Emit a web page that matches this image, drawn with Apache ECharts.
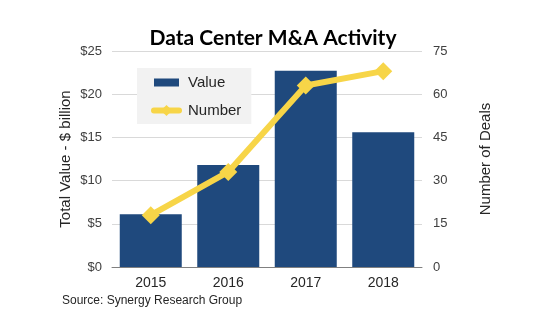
<!DOCTYPE html>
<html><head><meta charset="utf-8">
<script src="https://cdn.jsdelivr.net/npm/echarts@6/dist/echarts.min.js"></script>
<style>html,body{margin:0;padding:0;background:#fff}#c{width:545px;height:326px}</style>
</head><body><div id="c"></div>
<script>
const years = ['2015', '2016', '2017', '2018'];
const valueBillion = [6.1, 11.8, 22.7, 15.6];
const numberDeals = [18, 33, 63, 68];
const leftTicks = [0, 5, 10, 15, 20, 25];
const rightTicks = [0, 15, 30, 45, 60, 75];

const chart = echarts.init(document.getElementById('c'), null, {renderer: 'canvas'});
const axisFont = {fontFamily: 'Liberation Sans, Arial, sans-serif', fontSize: 13, color: '#404040'};
chart.setOption({
  animation: false,
  backgroundColor: '#ffffff',
  title: {
    text: 'Data Center M&A Activity',
    left: 268, top: 23, textAlign: 'center',
    textStyle: {fontFamily: 'Lato, Open Sans, sans-serif', fontWeight: 'bold', fontSize: 21, color: '#000'}
  },
  legend: {
    orient: 'vertical', left: 137, top: 68,
    backgroundColor: '#F2F2F2',
    padding: [7, 10, 6, 14],
    itemWidth: 25, itemHeight: 14, itemGap: 13,
    textStyle: {fontFamily: 'Liberation Sans, Arial, sans-serif', fontSize: 15, color: '#262626', padding: [0, 0, 0, 4]},
    data: [
      {name: 'Value', icon: 'path://M0,0H25V8H0Z'},
      {name: 'Number', lineStyle: {width: 6, color: '#F7D548', cap: 'round'}}
    ]
  },
  grid: {left: 112, right: 123, top: 51, bottom: 59},
  xAxis: {
    type: 'category', data: years,
    axisLine: {lineStyle: {color: '#808080'}},
    axisTick: {show: false},
    axisLabel: {fontFamily: 'Liberation Sans, Arial, sans-serif', fontSize: 14, color: '#262626', margin: 9}
  },
  yAxis: [
    {
      type: 'value', min: leftTicks[0], max: leftTicks[leftTicks.length - 1], interval: 5,
      name: 'Total Value - $ billion', nameLocation: 'middle', nameGap: 39, nameMoveOverlap: false,
      nameTextStyle: {fontFamily: 'Liberation Sans, Arial, sans-serif', fontSize: 15, color: '#262626'},
      axisLabel: Object.assign({formatter: v => '$' + v, margin: 10}, axisFont),
      splitLine: {lineStyle: {color: '#D9D9D9'}},
      axisLine: {show: false}, axisTick: {show: false}
    },
    {
      type: 'value', min: rightTicks[0], max: rightTicks[rightTicks.length - 1], interval: 15,
      name: 'Number of Deals', nameLocation: 'middle', nameGap: 56, nameMoveOverlap: false,
      nameTextStyle: {fontFamily: 'Liberation Sans, Arial, sans-serif', fontSize: 15, color: '#262626'},
      axisLabel: Object.assign({margin: 11}, axisFont),
      splitLine: {show: false},
      axisLine: {show: false}, axisTick: {show: false}
    }
  ],
  series: [
    {
      name: 'Value', type: 'bar', data: valueBillion, yAxisIndex: 0,
      barCategoryGap: '20%',
      itemStyle: {color: '#1F497D'}
    },
    {
      name: 'Number', type: 'line', data: numberDeals, yAxisIndex: 1,
      symbol: 'diamond', symbolSize: 18,
      lineStyle: {color: '#F7D548', width: 6},
      itemStyle: {color: '#F7D548'}
    }
  ],
  graphic: [{
    type: 'text', left: 62, top: 295,
    style: {text: 'Source: Synergy Research Group', fontFamily: 'Liberation Sans, Arial, sans-serif', fontSize: 12, fill: '#262626'}
  }]
});
</script>
</body></html>
